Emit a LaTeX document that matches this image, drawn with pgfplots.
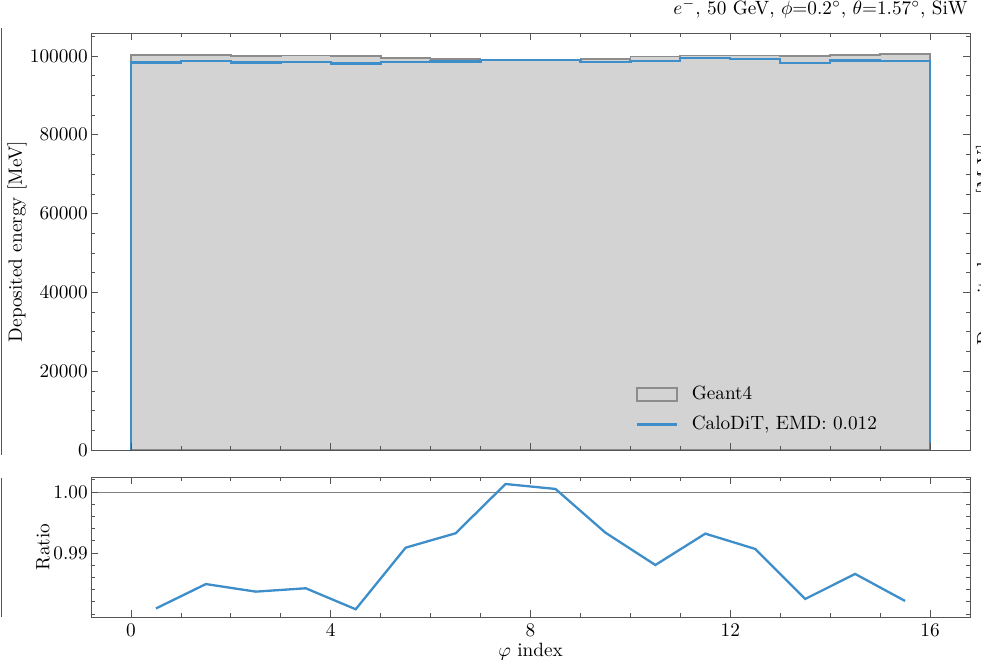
\documentclass[border=0pt]{standalone}
\usepackage{pgfplots}
\pgfplotsset{compat=1.18}
\definecolor{cdblue}{RGB}{61,142,201}
\definecolor{gfill}{RGB}{211,211,211}
\definecolor{gedge}{RGB}{140,140,140}
\definecolor{axcol}{RGB}{85,85,85}
\pgfplotsset{
  myax/.style={
    scale only axis, width=457.08pt,
    xmin=-0.8, xmax=16.8,
    axis on top,
    axis line style={axcol, line width=0.5pt},
    tick style={axcol, line width=0.4pt},
    major tick length=3.5pt, minor tick length=2pt,
    tick align=inside,
    xtick={0,4,8,12,16}, minor xtick={1,2,3,5,6,7,9,10,11,13,14,15},
    scaled y ticks=false,
  }
}
\begin{document}
\begin{tikzpicture}
\path[use as bounding box] (0,0) rectangle (510.12pt,342.68pt);
% fragments of neighbouring panels
\draw[axcol, line width=0.5pt] (0.6pt,106.08pt) -- (0.6pt,328.1pt);
\draw[axcol, line width=0.5pt] (0.6pt,21.84pt) -- (0.6pt,94.12pt);
\begin{scope}
\clip (0,0) rectangle (510.12pt,342.68pt);
\node[rotate=90, anchor=north, inner sep=0pt] at (507.3pt,215.3pt) {Deposited energy [MeV]};
\end{scope}

\begin{axis}[myax,
  at={(47.32pt,108.68pt)}, anchor=south west,
  height=216.84pt,
  ymin=0, ymax=105840,
  ytick={0,20000,40000,60000,80000,100000},
  minor ytick={5000,10000,15000,25000,30000,35000,45000,50000,55000,65000,70000,75000,85000,90000,95000,105000},
  yticklabel style={xshift=1.8pt, /pgf/number format/.cd, fixed, 1000 sep={}},
  xticklabels={},
  ylabel={Deposited energy [MeV]},
  ylabel style={yshift=-5.2pt},
  title={$e^-$, 50 GeV, $\phi$=0.2$^\circ$, $\theta$=1.57$^\circ$, SiW},
  title style={at={(1,1)}, anchor=base east, yshift=3.8pt, xshift=-1pt, inner sep=0pt},
  legend style={draw=none, fill=none, at={(0.613,0.022)}, anchor=south west,
    row sep=3pt, legend cell align=left,
    /tikz/every odd column/.append style={column sep=5pt}},
]
\addplot[const plot, fill=gfill, draw=gedge, line width=0.9pt,
  legend image code/.code={\draw[gedge, fill=gfill, line width=0.8pt] (0pt,-3.4pt) rectangle (20.8pt,3.4pt);}]
  coordinates {(0,0) (0,100250) (1,100200) (2,99950) (3,100100) (4,100000) (5,99450) (6,99300) (7,98856) (8,98935) (9,99162) (10,99900) (11,100150) (12,100150) (13,100000) (14,100178) (15,100508) (16,100508) (16,0)} \closedcycle;
\addlegendentry{Geant4}
\addplot[const plot, cdblue, line width=1.2pt,
  legend image code/.code={\draw[cdblue, line width=1.2pt] (0pt,0pt) -- (20.8pt,0pt);}]
  coordinates {(0,0) (0,98335) (1,98687) (2,98317) (3,98519) (4,98077) (5,98542) (6,98628) (7,98986) (8,98984) (9,98501) (10,98704) (11,99466) (12,99215) (13,98246) (14,98832) (15,98712) (16,98712) (16,0)};
\addlegendentry{CaloDiT, EMD: 0.012}
\end{axis}

\begin{axis}[myax,
  at={(47.32pt,21.84pt)}, anchor=south west,
  height=72.8pt,
  ymin=0.9795, ymax=1.00246,
  ytick={0.99,1.00},
  minor ytick={0.980,0.982,0.984,0.986,0.988,0.992,0.994,0.996,0.998,1.002},
  yticklabel style={xshift=1.8pt, /pgf/number format/.cd, fixed, fixed zerofill, precision=2},
  xlabel={$\varphi$ index},
  xlabel style={yshift=3pt},
  ylabel={Ratio},
  ylabel style={yshift=-5pt},
]
\addplot[gray, line width=0.5pt, forget plot] coordinates {(-0.8,1) (16.8,1)};
\addplot[cdblue, line width=1.2pt] coordinates {(0.5,0.9809) (1.5,0.9849) (2.5,0.98366) (3.5,0.98421) (4.5,0.98077) (5.5,0.99087) (6.5,0.99323) (7.5,1.00131) (8.5,1.0005) (9.5,0.99333) (10.5,0.98803) (11.5,0.99317) (12.5,0.99066) (13.5,0.98246) (14.5,0.98656) (15.5,0.98213)};
\end{axis}
\end{tikzpicture}
\end{document}
